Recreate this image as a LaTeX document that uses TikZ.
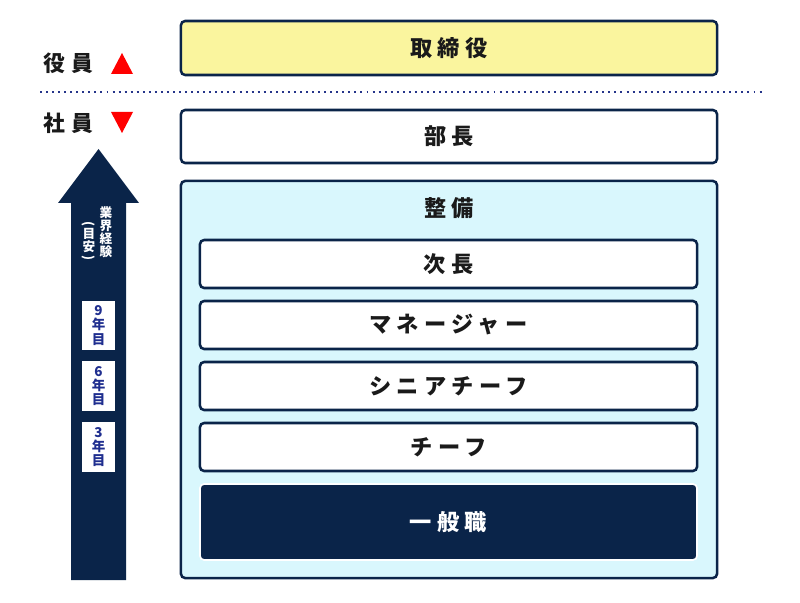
\documentclass[tikz,border=0pt]{standalone}
\usepackage{fontspec}
\usepackage{xcolor}
\usepackage{tikz}
\usetikzlibrary{positioning}
\setmainfont{Noto Sans CJK JP}
\definecolor{navy}{HTML}{0A2449}
\definecolor{inkblack}{HTML}{1A1A1A}
\definecolor{paleyellow}{HTML}{FAF59E}
\definecolor{paleblue}{HTML}{D9F7FD}
\definecolor{markblue}{HTML}{1F2E8F}
\definecolor{dotblue}{HTML}{26358A}
\definecolor{alertred}{HTML}{FF0000}
\newcommand{\rankfont}{\fontsize{15.8}{18}\selectfont\bfseries\addfontfeature{LetterSpace=24}}
\newcommand{\sidefont}{\fontsize{15.5}{18}\selectfont\bfseries\addfontfeature{LetterSpace=28}}
\newcommand{\yearfont}{\fontsize{9.6}{10.2}\selectfont\bfseries}
\newcommand{\tatefont}{\fontsize{9}{9.3}\selectfont\bfseries}

\begin{document}
\begin{tikzpicture}[x=0.025cm, y=-0.025cm,
    rankbox/.style={draw=navy, line width=1.8pt, rounded corners=3pt, fill=white,
        minimum width=13.4cm, minimum height=1.325cm, font=\rankfont, text=inkblack},
    stepbox/.style={rankbox, minimum width=12.425cm, minimum height=1.2cm},
    yearbox/.style={fill=white, minimum width=0.825cm, minimum height=1.225cm,
        inner sep=0pt, font=\yearfont, text=markblue, align=center},
    tate/.style={font=\tatefont, text=white, align=center, inner sep=0pt}]
    \useasboundingbox (0,0) rectangle (800,603);

    % officers / employees
    \node[rankbox, fill=paleyellow, minimum height=1.35cm] (board) at (449,48) {取締役};
    \node[font=\sidefont, text=inkblack] (officer) at (68,63) {役員};
    \node[font=\sidefont, text=inkblack] (staff) at (68,123) {社員};
    \fill[alertred] (111,74) -- (122,53) -- (133,74) -- cycle;
    \fill[alertred] (111,112) -- (122,133) -- (133,112) -- cycle;
    \draw[dotblue, line width=1.4pt, dash pattern=on 1.4pt off 2.9pt] (40,92) -- (763,92);

    % ranks
    \node[rankbox] (bucho) at (449,136.5) {部長};
    \node[rankbox, fill=paleblue, minimum height=9.925cm] (seibi) at (449,379.5) {};
    \node[font=\rankfont, text=inkblack] (seibilabel) at (449,208) {整備};
    \node[stepbox] (jicho) at (448.5,264) {次長};
    \node[stepbox] (manager) at (448.5,325) {マネージャー};
    \node[stepbox] (senior) at (448.5,386) {シニアチーフ};
    \node[stepbox] (chief) at (448.5,447) {チーフ};
    \node[stepbox, fill=navy, draw=white, line width=1.2pt, minimum height=1.9cm,
          text=white] (ippan) at (448.5,522) {一般職};

    % experience arrow
    \fill[navy] (71,580) -- (71,203) -- (58,203) -- (98.5,149) -- (139,203)
        -- (126,203) -- (126,580) -- cycle;
    \node[tate] (career) at (106,232) {業\\界\\経\\験};
    \node[tate] (guide) at (89,242) {\rotatebox[origin=c]{-90}{(}\\[-2pt]目\\安\\[-2pt]\rotatebox[origin=c]{-90}{)}};
    \node[yearbox] (year9) at (98.5,325.5) {9\\年\\目};
    \node[yearbox] (year6) at (98.5,386) {6\\年\\目};
    \node[yearbox] (year3) at (98.5,447) {3\\年\\目};
\end{tikzpicture}
\end{document}
